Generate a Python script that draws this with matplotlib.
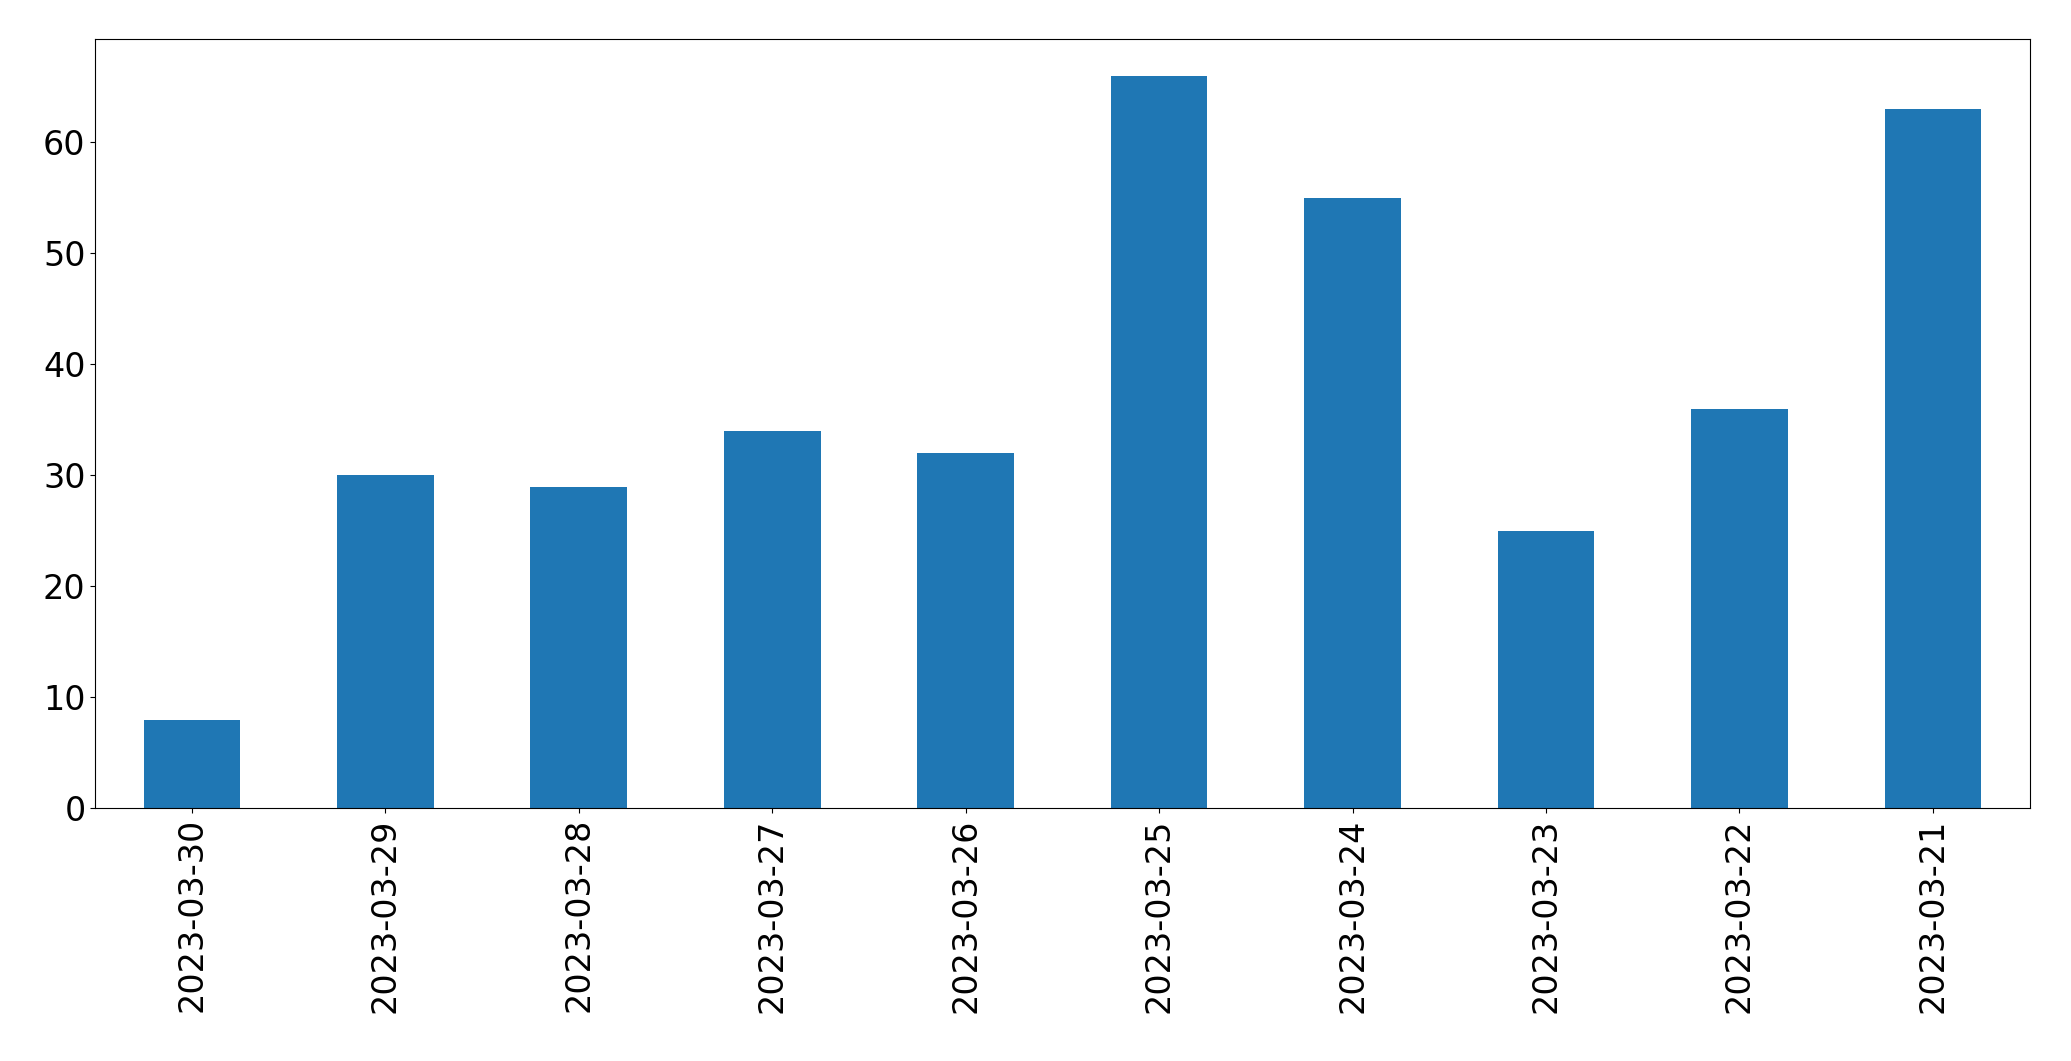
import matplotlib
matplotlib.use("Agg")
import matplotlib.pyplot as plt
import numpy as np

dates = ["2023-03-30","2023-03-29","2023-03-28","2023-03-27","2023-03-26",
         "2023-03-25","2023-03-24","2023-03-23","2023-03-22","2023-03-21"]
counts = [8, 30, 29, 34, 32, 66, 55, 25, 36, 63]

fig = plt.figure(figsize=(20.71, 10.61), dpi=100)
ax = fig.add_axes([0.046, 0.238, 0.934, 0.725])
x = np.arange(len(dates))
ax.bar(x, counts, width=0.5, color="#1f77b4")
ax.set_xlim(-0.5, len(dates) - 0.5)
ax.set_xticks(x)
ax.set_xticklabels(dates, rotation=90)
ax.tick_params(labelsize=24)
fig.savefig("out.png", dpi=100)
